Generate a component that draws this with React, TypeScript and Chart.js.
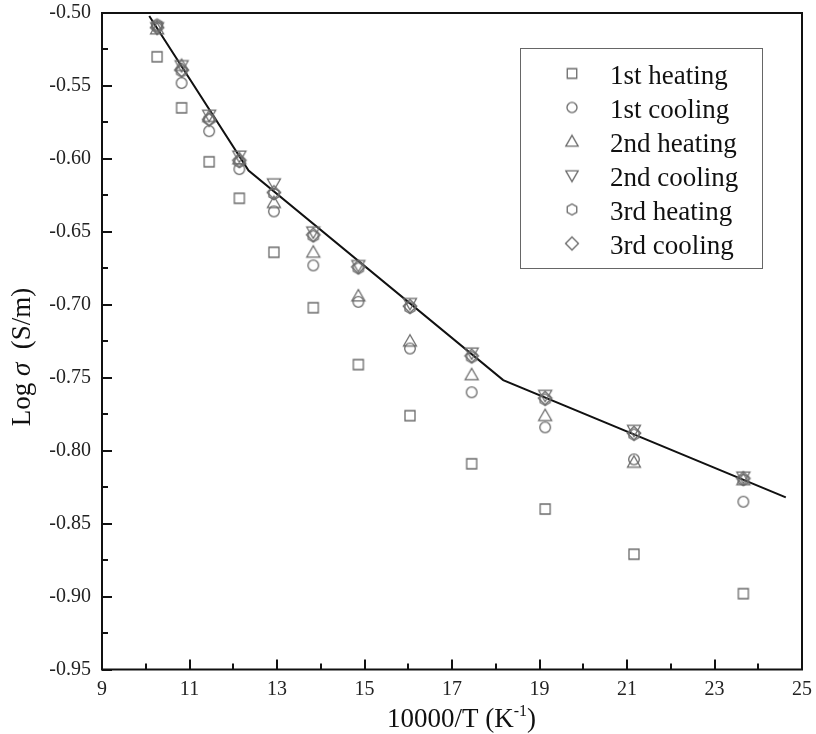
import React, { useEffect, useRef } from 'react';
import { Chart, registerables } from 'chart.js';

Chart.register(...registerables);

// ---- data ----
const xValues = [10.26, 10.82, 11.45, 12.14, 12.93, 13.83, 14.86, 16.04, 17.45, 19.13, 21.16, 23.66];
const heating1 = [-0.530, -0.565, -0.602, -0.627, -0.664, -0.702, -0.741, -0.776, -0.809, -0.840, -0.871, -0.898];
const cooling1 = [-0.509, -0.548, -0.581, -0.607, -0.636, -0.673, -0.698, -0.730, -0.760, -0.784, -0.806, -0.835];
const heating2 = [-0.511, -0.536, -0.571, -0.600, -0.630, -0.664, -0.694, -0.725, -0.748, -0.776, -0.808, -0.820];
const cooling2 = [-0.510, -0.536, -0.570, -0.598, -0.617, -0.650, -0.673, -0.699, -0.733, -0.762, -0.786, -0.818];
const heating3 = [-0.508, -0.540, -0.573, -0.602, -0.624, -0.653, -0.675, -0.702, -0.736, -0.765, -0.789, -0.820];
const cooling3 = [-0.510, -0.539, -0.573, -0.601, -0.623, -0.652, -0.674, -0.701, -0.735, -0.764, -0.788, -0.819];
const seriesNames = ['1st heating', '1st cooling', '2nd heating', '2nd cooling', '3rd heating', '3rd cooling'];
const seriesShapes = ['square', 'circle', 'triUp', 'triDown', 'hexagon', 'diamond'];

const fitX = [10.08, 12.35, 18.17, 24.63];
const fitY = [-0.502, -0.608, -0.7516, -0.832];

const xMajorTicks = [9, 11, 13, 15, 17, 19, 21, 23, 25];
const xMinorTicks = [10, 12, 14, 16, 18, 20, 22, 24];
const yMajorTicks = [-0.95, -0.90, -0.85, -0.80, -0.75, -0.70, -0.65, -0.60, -0.55, -0.50];
const yMinorTicks = [-0.925, -0.875, -0.825, -0.775, -0.725, -0.675, -0.625, -0.575, -0.525];

const xTitleMain = '10000/T (K';
const xTitleSup = '-1';
const xTitleEnd = ')';
const yTitleParts = ['Log ', 'σ', '  (S/m)'];

const SERIF = '"Liberation Serif", "Times New Roman", serif';
const MARK = '#6a6a6a';

function makeMarker(shape: string, scale: number) {
  const s = Math.round(18 * scale) + (Math.round(18 * scale) % 2);
  const c = document.createElement('canvas');
  c.width = s;
  c.height = s;
  const ctx = c.getContext('2d') as CanvasRenderingContext2D;
  ctx.strokeStyle = MARK;
  ctx.lineWidth = 1.3;
  const cx = s / 2;
  const cy = s / 2;
  const k = scale;
  ctx.beginPath();
  if (shape === 'square') {
    ctx.rect(cx - 5 * k, cy - 5 * k, 10 * k, 10 * k);
  } else if (shape === 'circle') {
    ctx.arc(cx, cy, 5.3 * k, 0, Math.PI * 2);
  } else if (shape === 'triUp') {
    ctx.moveTo(cx, cy - 6.5 * k);
    ctx.lineTo(cx + 6.5 * k, cy + 4.8 * k);
    ctx.lineTo(cx - 6.5 * k, cy + 4.8 * k);
    ctx.closePath();
  } else if (shape === 'triDown') {
    ctx.moveTo(cx, cy + 6.5 * k);
    ctx.lineTo(cx + 6.5 * k, cy - 4.8 * k);
    ctx.lineTo(cx - 6.5 * k, cy - 4.8 * k);
    ctx.closePath();
  } else if (shape === 'hexagon') {
    for (let i = 0; i < 6; i++) {
      const a = Math.PI / 2 + (i * Math.PI) / 3;
      const px = cx + 5.8 * k * Math.cos(a);
      const py = cy + 5.8 * k * Math.sin(a);
      if (i === 0) ctx.moveTo(px, py);
      else ctx.lineTo(px, py);
    }
    ctx.closePath();
  } else if (shape === 'diamond') {
    ctx.moveTo(cx, cy - 6.8 * k);
    ctx.lineTo(cx + 6.8 * k, cy);
    ctx.lineTo(cx, cy + 6.8 * k);
    ctx.lineTo(cx - 6.8 * k, cy);
    ctx.closePath();
  }
  ctx.stroke();
  return c;
}

function zeroPad(s: any) {
  s.paddingTop = 0;
  s.paddingBottom = 0;
  s.paddingLeft = 0;
  s.paddingRight = 0;
}

export default function App() {
  const ref = useRef<HTMLCanvasElement | null>(null);

  useEffect(() => {
    const canvas = ref.current;
    if (!canvas) return;
    const seriesValues = [heating1, cooling1, heating2, cooling2, heating3, cooling3];
    const markers = seriesShapes.map((s) => makeMarker(s, 1));
    const legendMarkers = seriesShapes.map((s) => makeMarker(s, 0.95));

    const decor = {
      id: 'decor',
      afterDraw(chart: any) {
        const { ctx, chartArea: a, scales } = chart;
        const xs = scales.x;
        const ys = scales.y;
        ctx.save();
        // frame
        ctx.strokeStyle = '#111';
        ctx.lineWidth = 2;
        ctx.strokeRect(a.left, a.top, a.right - a.left, a.bottom - a.top);
        // inward ticks
        ctx.beginPath();
        xMajorTicks.forEach((v) => {
          const p = Math.round(xs.getPixelForValue(v));
          ctx.moveTo(p, a.bottom);
          ctx.lineTo(p, a.bottom - 10);
        });
        xMinorTicks.forEach((v) => {
          const p = Math.round(xs.getPixelForValue(v));
          ctx.moveTo(p, a.bottom);
          ctx.lineTo(p, a.bottom - 6);
        });
        yMajorTicks.forEach((v) => {
          const p = Math.round(ys.getPixelForValue(v));
          ctx.moveTo(a.left, p);
          ctx.lineTo(a.left + 10, p);
        });
        yMinorTicks.forEach((v) => {
          const p = Math.round(ys.getPixelForValue(v));
          ctx.moveTo(a.left, p);
          ctx.lineTo(a.left + 6, p);
        });
        ctx.stroke();

        // legend
        ctx.strokeStyle = '#666';
        ctx.lineWidth = 1;
        ctx.strokeRect(520.5, 48.5, 242, 220);
        ctx.fillStyle = '#111';
        ctx.font = `27px ${SERIF}`;
        ctx.textAlign = 'left';
        ctx.textBaseline = 'alphabetic';
        seriesNames.forEach((name, i) => {
          const base = 83.5 + i * 34;
          const m = legendMarkers[i];
          ctx.drawImage(m, 572 - m.width / 2, base - 10 - m.height / 2);
          ctx.fillText(name, 610, base);
        });

        // x title
        ctx.fillStyle = '#111';
        const fMain = `27px ${SERIF}`;
        const fSup = `16px ${SERIF}`;
        ctx.font = fMain;
        const w1 = ctx.measureText(xTitleMain).width;
        const w3 = ctx.measureText(xTitleEnd).width;
        ctx.font = fSup;
        const w2 = ctx.measureText(xTitleSup).width;
        let x0 = 461.5 - (w1 + w2 + w3) / 2;
        const yb = 727;
        ctx.font = fMain;
        ctx.fillText(xTitleMain, x0, yb);
        x0 += w1;
        ctx.font = fSup;
        ctx.fillText(xTitleSup, x0, yb - 11);
        x0 += w2;
        ctx.font = fMain;
        ctx.fillText(xTitleEnd, x0, yb);

        // y title
        ctx.save();
        ctx.translate(30, 357);
        ctx.rotate(-Math.PI / 2);
        const fonts = [fMain, `italic 27px ${SERIF}`, fMain];
        const widths = yTitleParts.map((t, i) => {
          ctx.font = fonts[i];
          return ctx.measureText(t).width;
        });
        let sx = -widths.reduce((p, c) => p + c, 0) / 2;
        yTitleParts.forEach((t, i) => {
          ctx.font = fonts[i];
          ctx.fillText(t, sx, 0);
          sx += widths[i];
        });
        ctx.restore();
        ctx.restore();
      },
    };

    const datasets: any[] = seriesValues.map((vals, i) => ({
      label: seriesNames[i],
      data: vals.map((y, j) => ({ x: xValues[j], y })),
      pointStyle: markers[i],
      pointRadius: 5,
      showLine: false,
    }));
    datasets.push({
      label: 'fit',
      data: fitX.map((x, j) => ({ x, y: fitY[j] })),
      showLine: true,
      borderColor: '#111',
      borderWidth: 2,
      pointRadius: 0,
      tension: 0,
    });

    const chart = new Chart(canvas, {
      type: 'scatter',
      data: { datasets },
      options: {
        animation: false,
        responsive: false,
        devicePixelRatio: 1,
        layout: { autoPadding: false, padding: { left: 0, top: 13, right: 14, bottom: 0 } },
        plugins: { legend: { display: false }, tooltip: { enabled: false } },
        scales: {
          x: {
            type: 'linear',
            min: 9,
            max: 25,
            border: { display: false },
            grid: { display: false, drawTicks: false, tickLength: 0 },
            ticks: {
              stepSize: 2,
              autoSkip: false,
              maxRotation: 0,
              padding: 8,
              color: '#222',
              font: { family: SERIF, size: 20 },
              callback: (v: any) => String(v),
            },
            afterFit: (s: any) => {
              s.height = 64.5;
              zeroPad(s);
            },
          },
          y: {
            type: 'linear',
            min: -0.95,
            max: -0.5,
            border: { display: false },
            grid: { display: false, drawTicks: false, tickLength: 0 },
            ticks: {
              stepSize: 0.05,
              autoSkip: false,
              padding: 11,
              color: '#222',
              font: { family: SERIF, size: 20 },
              callback: (v: any) => Number(v).toFixed(2),
            },
            afterFit: (s: any) => {
              s.width = 102;
              zeroPad(s);
            },
          },
        },
      },
      plugins: [decor],
    } as any);

    return () => chart.destroy();
  }, []);

  return (
    <div style={{ position: 'absolute', left: 0, top: 0, width: 816, height: 734, background: '#fff' }}>
      <canvas ref={ref} width={816} height={734} />
    </div>
  );
}
